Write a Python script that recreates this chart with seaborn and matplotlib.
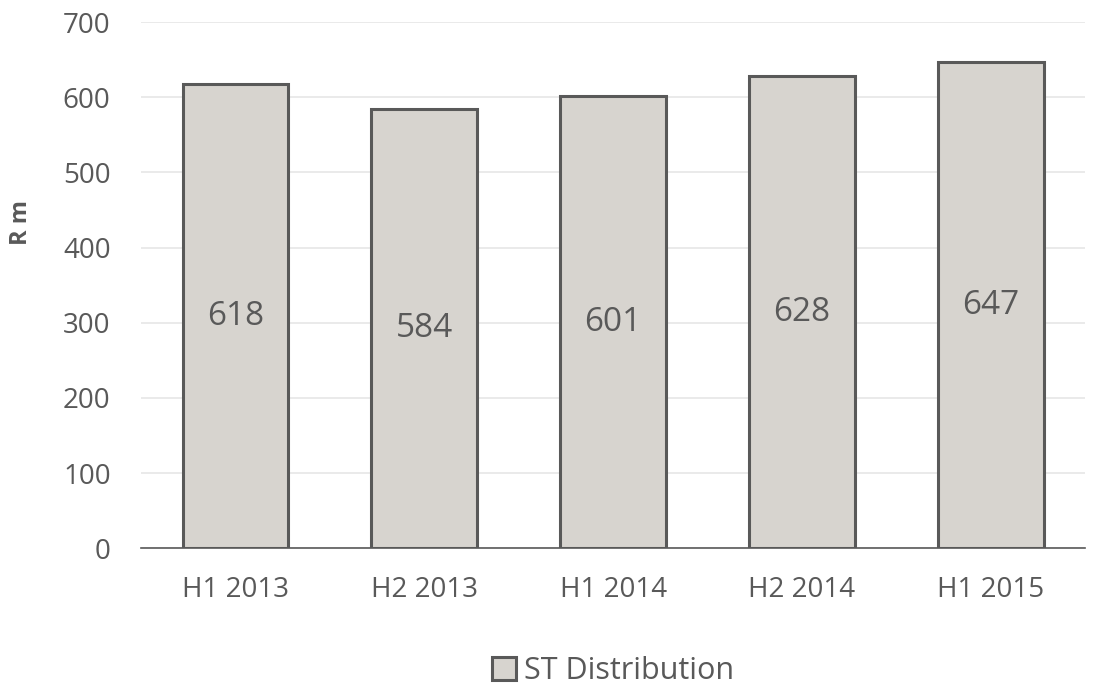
import numpy as np
import pandas as pd
import matplotlib
matplotlib.use("Agg")
import matplotlib.pyplot as plt
import seaborn as sns

# -------------------- DATA --------------------
PERIODS = ['H1 2013', 'H2 2013', 'H1 2014', 'H2 2014', 'H1 2015']
VALUES = [618, 584, 601, 628, 647]
SERIES = 'ST Distribution'

BAR_FILL = '#d8d4ce'
BAR_EDGE = '#595959'
TEXT = '#595959'

sns.set_theme(style='white')
plt.rcParams['font.family'] = ['Open Sans', 'DejaVu Sans']

df = pd.DataFrame({'period': PERIODS, 'value': VALUES, 'series': SERIES})

fig, ax = plt.subplots(figsize=(10.94, 6.88), dpi=100)
fig.subplots_adjust(left=0.129, right=0.992, top=0.968, bottom=0.203)

sns.barplot(data=df, x='period', y='value', hue='series', palette=[BAR_FILL],
            width=0.56, edgecolor=BAR_EDGE, linewidth=2.2, ax=ax, zorder=3)

# value labels centered in bars
for i, v in enumerate(VALUES):
    ax.text(i, v / 2, str(v), ha='center', va='center', fontsize=24, color=TEXT, zorder=4)

ax.set_ylim(0, 700)
ax.set_yticks(np.arange(0, 701, 100))
ax.yaxis.grid(True, color='#e6e6e6', linewidth=1.2, zorder=0)
ax.set_axisbelow(True)
for s in ['top', 'right', 'left']:
    ax.spines[s].set_visible(False)
ax.spines['bottom'].set_color('#595959')
ax.spines['bottom'].set_linewidth(1.2)
ax.tick_params(axis='y', length=0, labelsize=20, colors=TEXT, pad=22)
ax.tick_params(axis='x', length=0, labelsize=20, colors=TEXT, pad=20)
ax.set_xlabel('')
ax.set_ylabel('R m', fontsize=17, fontweight='bold', color=TEXT)
ax.yaxis.set_label_coords(-0.115, 0.62)

leg = ax.legend(loc='center', bbox_to_anchor=(0.5, -0.233), frameon=False,
                fontsize=22, handlelength=0.78, handleheight=0.78, handletextpad=0.25,
                borderpad=0.1)
for t in leg.get_texts():
    t.set_color(TEXT)

plt.savefig('out.png', dpi=100)
